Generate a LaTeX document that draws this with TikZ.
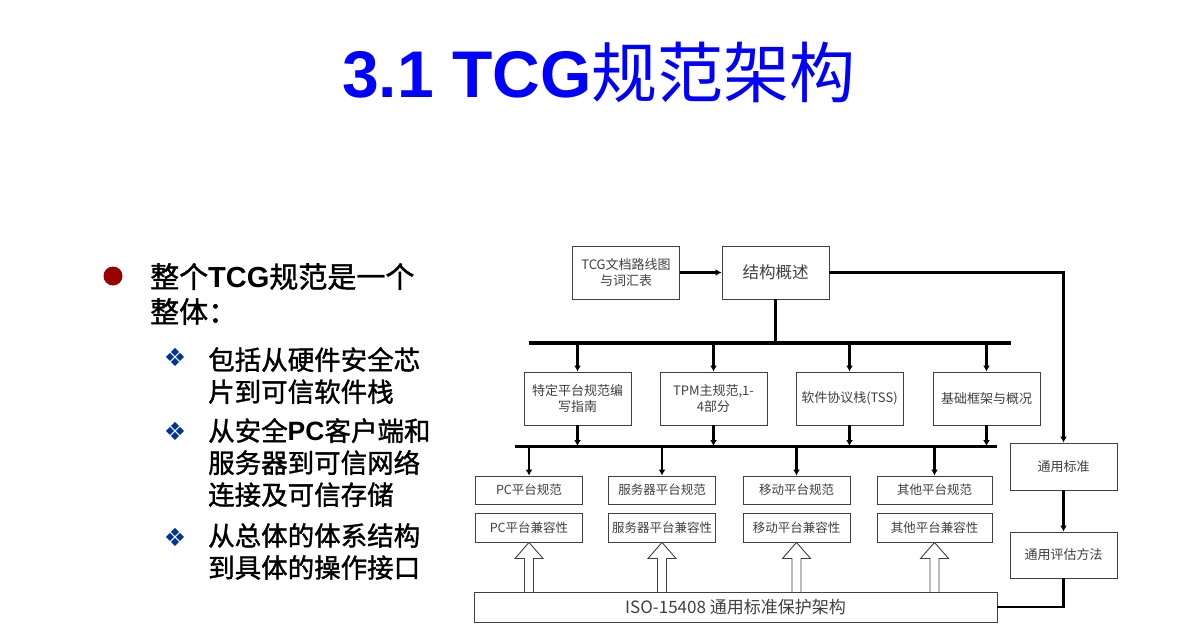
\documentclass[tikz,border=0pt]{standalone}
\usepackage{fontspec}
\setmainfont{Noto Sans CJK SC}
\newfontfamily\heavycjk{Noto Sans CJK SC}[FakeBold=1.3]
\newfontfamily\arialfont{Liberation Sans}
\newfontfamily\symfont{DejaVu Sans}
\usetikzlibrary{arrows.meta,calc}
\definecolor{titleblue}{RGB}{0,0,255}
\definecolor{bulletred}{RGB}{153,0,0}
\definecolor{diamondblue}{RGB}{0,51,153}
\definecolor{boxgray}{RGB}{64,64,64}

\begin{document}
\begin{tikzpicture}[
    x=1pt, y=-1pt,
    box/.style={
        rectangle,
        draw=boxgray,
        line width=0.9pt,
        fill=white,
        text=boxgray,
        align=center,
        inner sep=0pt,
        font=\fontsize{13}{16}\selectfont
    },
    bigbox/.style={
        box,
        minimum width=107,
        minimum height=53
    },
    platbox/.style={
        box,
        minimum width=107,
        minimum height=28,
        font=\fontsize{12.5}{15}\selectfont
    },
    arrow/.style={
        -{Latex[length=6pt,width=7pt]},
        line width=2.6pt,
        black
    },
    bus/.style={
        line width=4pt,
        black
    },
    hollow/.style={
        draw=boxgray,
        line width=0.9pt,
        fill=white
    },
    item/.style={
        anchor=north west,
        inner sep=0pt,
        align=left,
        font=\heavycjk\fontsize{26.5}{32}\selectfont
    },
    diamond4/.style={
        text=diamondblue,
        inner sep=0pt,
        font=\symfont\fontsize{25}{25}\selectfont
    }
]

\fill[white] (0,0) rectangle (1200,624);
\useasboundingbox (0,0) rectangle (1200,624);

% TITULO
\node[text=titleblue, inner sep=0pt, font=\fontsize{66}{70}\selectfont] (title) at (599,72)
{{\arialfont\bfseries 3.1 TCG}规范架构};

% LISTA
\node[circle, fill=bulletred, minimum size=19, inner sep=0pt] (dot) at (113,276) {};
\node[item, font=\heavycjk\fontsize{29}{35}\selectfont] (whole) at (150,263)
{整个{\arialfont\bfseries TCG}规范是一个\\整体：};

\node[diamond4] (dia1) at (175,357) {❖};
\node[item] (hw) at (208,347)
{包括从硬件安全芯\\片到可信软件栈};

\node[diamond4] (dia2) at (175,431) {❖};
\node[item] (pc) at (208,418)
{从安全{\arialfont\bfseries PC}客户端和\\服务器到可信网络\\连接及可信存储};

\node[diamond4] (dia3) at (175,537) {❖};
\node[item] (arch) at (208,523)
{从总体的体系结构\\到具体的操作接口};

% FILA SUPERIOR
\node[bigbox] (roadmap) at (626,272.5) {TCG文档路线图\\与词汇表};
\node[bigbox, font=\fontsize{16.5}{20}\selectfont] (overview) at (775.5,272.5) {结构概述};

\coordinate (busA) at (529,343);
\coordinate (busAend) at (1011,343);

% FILA MEDIA
\node[bigbox] (platguide) at (577.5,398.5) {特定平台规范编\\写指南};
\node[bigbox] (tpm) at (713.5,398.5) {TPM主规范,1-\\4部分};
\node[bigbox] (tss) at (849.5,398.5) {软件协议栈(TSS)};
\node[bigbox] (infra) at (986.5,398.5) {基础框架与概况};

\coordinate (busB) at (515,446);
\coordinate (busBend) at (997,446);

% PLATAFORMAS
\node[platbox] (pcspec) at (529,490) {PC平台规范};
\node[platbox] (srvspec) at (662,490) {服务器平台规范};
\node[platbox] (mobspec) at (796.5,490) {移动平台规范};
\node[platbox, minimum width=115] (othspec) at (934.5,490) {其他平台规范};

\node[platbox, minimum height=29] (pccomp) at (529,527.5) {PC平台兼容性};
\node[platbox, minimum height=29] (srvcomp) at (662,527.5) {服务器平台兼容性};
\node[platbox, minimum height=29] (mobcomp) at (796.5,527.5) {移动平台兼容性};
\node[platbox, minimum height=29, minimum width=115] (othcomp) at (934.5,527.5) {其他平台兼容性};

\node[box, minimum width=523, minimum height=30, font=\fontsize{17}{20}\selectfont] (iso) at (735.5,607)
{ISO-15408 通用标准保护架构};

% COLUMNA DERECHA
\node[box, minimum width=107, minimum height=47] (cc) at (1063.5,466.5) {通用标准};
\node[box, minimum width=107, minimum height=46] (cem) at (1063.5,555) {通用评估方法};

% FLECHAS
\draw[arrow] (roadmap) -- (overview);
\draw[arrow] (overview.east) -| (cc.north);
\draw[arrow] (cc) -- (cem);
\draw[line width=2.6pt] (cem.south) |- (iso.east);

\draw[line width=2.6pt] (overview.south) -- (overview.south |- busA);
\draw[bus] (busA) -- (busAend);
\draw[arrow] (platguide.north |- busA) -- (platguide.north);
\draw[arrow] (tpm.north |- busA) -- (tpm.north);
\draw[arrow] (tss.north |- busA) -- (tss.north);
\draw[arrow] (infra.north |- busA) -- (infra.north);

\draw[arrow] (platguide.south) -- (platguide.south |- busB);
\draw[arrow] (tpm.south) -- (tpm.south |- busB);
\draw[arrow] (tss.south) -- (tss.south |- busB);
\draw[arrow] (infra.south) -- (infra.south |- busB);
\draw[bus, line width=3pt] (busB) -- (busBend);

\draw[arrow] (pcspec.north |- busB) -- (pcspec.north);
\draw[arrow] (srvspec.north |- busB) -- (srvspec.north);
\draw[arrow] (mobspec.north |- busB) -- (mobspec.north);
\draw[arrow] (othspec.north |- busB) -- (othspec.north);

% FLECHAS HUECAS
\draw[hollow] (pccomp.south) -- ++(14,16) -- ++(-9.5,0) -- ++(0,34) -- ++(-9,0) -- ++(0,-34) -- ++(-9.5,0) -- cycle;
\draw[hollow] (srvcomp.south) -- ++(14,16) -- ++(-9.5,0) -- ++(0,34) -- ++(-9,0) -- ++(0,-34) -- ++(-9.5,0) -- cycle;
\draw[hollow] (mobcomp.south) -- ++(14,16) -- ++(-9.5,0) -- ++(0,34) -- ++(-9,0) -- ++(0,-34) -- ++(-9.5,0) -- cycle;
\draw[hollow] (othcomp.south) -- ++(14,16) -- ++(-9.5,0) -- ++(0,34) -- ++(-9,0) -- ++(0,-34) -- ++(-9.5,0) -- cycle;

\end{tikzpicture}
\end{document}
